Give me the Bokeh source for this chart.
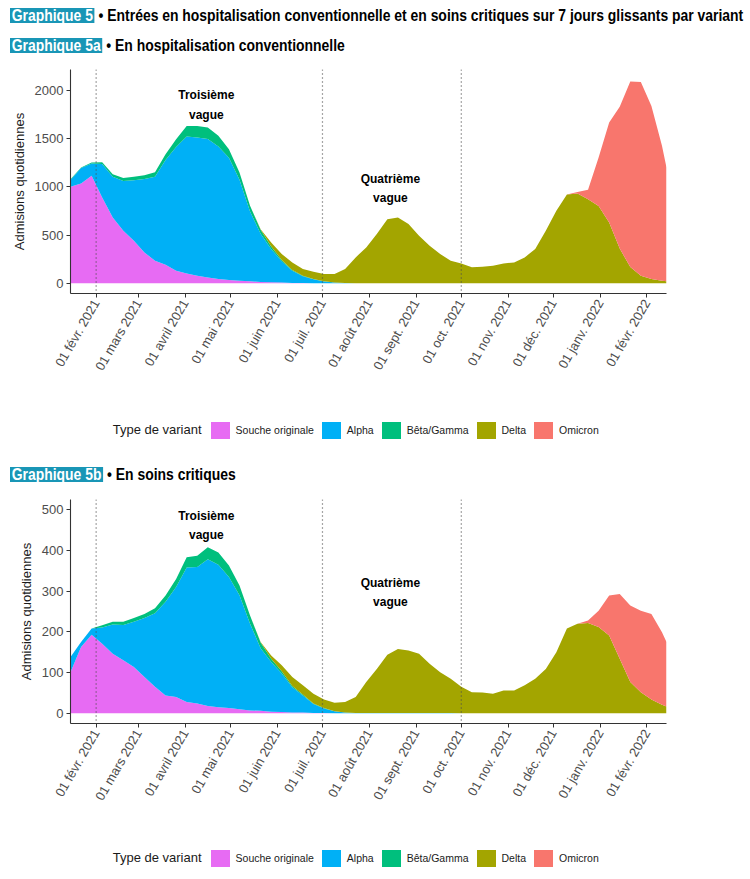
import math
import pandas as pd
from bokeh.plotting import figure
from bokeh.models import ColumnDataSource, Range1d, FixedTicker, Span, Div
from bokeh.layouts import column
from bokeh.embed import file_html
from bokeh.resources import INLINE
from bokeh.core.properties import value

# ---------------- data ----------------
dates = list(pd.date_range("2021-01-15", periods=57, freq="7D")) + [pd.Timestamp("2022-02-14")]

variant_names = ["Souche originale", "Alpha", "Bêta/Gamma", "Delta", "Omicron"]
variant_colors = ["#E76BF3", "#00B0F6", "#00BF7D", "#A3A500", "#F8766D"]

# Graphique 5a : hospitalisation conventionnelle
hosp_souche = [1000, 1034, 1114, 890, 683, 545, 441, 320, 234, 193,
               131, 103, 79, 62, 45, 34, 28, 21, 15, 12,
               8, 5, 3, 2, 1, 0, 0, 0, 0, 0,
               0, 0, 0, 0, 0, 0, 0, 0, 0, 0,
               0, 0, 0, 0, 0, 0, 0, 0, 0, 0,
               0, 0, 0, 0, 0, 0, 0, 0]
hosp_alpha = [70, 160, 128, 345, 420, 515, 627, 760, 870, 1085,
              1282, 1418, 1432, 1432, 1373, 1266, 1045, 722, 500, 345,
              220, 125, 70, 40, 18, 8, 3, 1, 0, 0,
              0, 0, 0, 0, 0, 0, 0, 0, 0, 0,
              0, 0, 0, 0, 0, 0, 0, 0, 0, 0,
              0, 0, 0, 0, 0, 0, 0, 0]
hosp_beta = [9, 6, 10, 20, 28, 30, 35, 40, 46, 60,
             80, 110, 120, 120, 110, 90, 75, 60, 40, 25,
             15, 8, 5, 3, 2, 1, 0, 0, 0, 0,
             0, 0, 0, 0, 0, 0, 0, 0, 0, 0,
             0, 0, 0, 0, 0, 0, 0, 0, 0, 0,
             0, 0, 0, 0, 0, 0, 0, 0]
hosp_delta = [0, 0, 0, 0, 0, 0, 0, 0, 0, 0,
              0, 0, 0, 0, 0, 0, 0, 0, 5, 42,
              60, 79, 70, 76, 76, 88, 145, 268, 372, 510,
              665, 683, 614, 493, 390, 303, 234, 207, 166, 172,
              183, 207, 217, 269, 355, 545, 752, 920, 930, 870,
              800, 630, 360, 170, 80, 45, 28, 22]
hosp_omicron = [0, 0, 0, 0, 0, 0, 0, 0, 0, 0,
                0, 0, 0, 0, 0, 0, 0, 0, 0, 0,
                0, 0, 0, 0, 0, 0, 0, 0, 0, 0,
                0, 0, 0, 0, 0, 0, 0, 0, 0, 0,
                0, 0, 0, 0, 0, 0, 0, 0, 15, 100,
                503, 1036, 1468, 1920, 2006, 1793, 1396, 1178]

# Graphique 5b : soins critiques
crit_souche = [101, 163, 193, 171, 146, 130, 114, 89, 65, 44,
               40, 28, 24, 18, 15, 13, 10, 7, 6, 4,
               3, 2, 2, 1, 1, 0, 0, 0, 0, 0,
               0, 0, 0, 0, 0, 0, 0, 0, 0, 0,
               0, 0, 0, 0, 0, 0, 0, 0, 0, 0,
               0, 0, 0, 0, 0, 0, 0, 0]
crit_alpha = [37, 12, 15, 40, 72, 87, 111, 145, 181, 230,
              270, 330, 335, 360, 350, 322, 280, 213, 154, 122,
              95, 62, 42, 22, 11, 5, 2, 1, 1, 1,
              1, 1, 1, 1, 1, 1, 1, 0, 0, 0,
              0, 0, 0, 0, 0, 0, 0, 0, 0, 0,
              0, 0, 0, 0, 0, 0, 0, 0]
crit_beta = [0, 0, 0, 5, 7, 8, 9, 10, 12, 15,
             20, 25, 28, 30, 30, 28, 24, 20, 14, 8,
             5, 3, 2, 1, 1, 0, 0, 0, 0, 0,
             0, 0, 0, 0, 0, 0, 0, 0, 0, 0,
             0, 0, 0, 0, 0, 0, 0, 0, 0, 0,
             0, 0, 0, 0, 0, 0, 0, 0]
crit_delta = [0, 0, 0, 0, 0, 0, 0, 0, 0, 0,
              0, 0, 0, 0, 0, 0, 0, 0, 1, 8,
              15, 22, 23, 24, 21, 21, 26, 39, 76, 108,
              143, 157, 153, 145, 121, 100, 84, 65, 52, 51,
              48, 56, 56, 69, 85, 109, 150, 208, 220, 222,
              212, 191, 134, 77, 52, 34, 21, 17]
crit_omicron = [0, 0, 0, 0, 0, 0, 0, 0, 0, 0,
                0, 0, 0, 0, 0, 0, 0, 0, 0, 0,
                0, 0, 0, 0, 0, 0, 0, 0, 0, 0,
                0, 0, 0, 0, 0, 0, 0, 0, 0, 0,
                0, 0, 0, 0, 0, 0, 0, 0, 0, 6,
                40, 98, 159, 188, 200, 210, 178, 158]

tick_dates = ["2021-02-01", "2021-03-01", "2021-04-01", "2021-05-01", "2021-06-01",
              "2021-07-01", "2021-08-01", "2021-09-01", "2021-10-01", "2021-11-01",
              "2021-12-01", "2022-01-01", "2022-02-01"]
tick_labels = ["01 févr. 2021", "01 mars 2021", "01 avril 2021", "01 mai 2021",
               "01 juin 2021", "01 juil. 2021", "01 août 2021", "01 sept. 2021",
               "01 oct. 2021", "01 nov. 2021", "01 déc. 2021", "01 janv. 2022",
               "01 févr. 2022"]
vline_dates = ["2021-02-01", "2021-07-01", "2021-10-01"]

ann_dates = ["2021-04-15", "2021-04-15", "2021-08-15", "2021-08-15"]
ann_text = ["Troisième", "vague", "Quatrième", "vague"]
hosp_ann_y = [1948, 1748, 1080, 882]
crit_ann_y = [485, 438, 319, 273]

hosp_yticks = [0, 500, 1000, 1500, 2000]
crit_yticks = [0, 100, 200, 300, 400, 500]

title_main = ("Graphique 5", "• Entrées en hospitalisation conventionnelle et en soins critiques sur 7 jours glissants par variant")
title_a = ("Graphique 5a", "• En hospitalisation conventionnelle")
title_b = ("Graphique 5b", "• En soins critiques")
legend_title = "Type de variant"

# ---------------- helpers ----------------
EPOCH = pd.Timestamp("1970-01-01")
W = 742
FONT = "Liberation Sans"
TEAL = "#1996B6"


def ms(d):
    return int((pd.Timestamp(d) - EPOCH) // pd.Timedelta(milliseconds=1))


def title_line(box, rest, top):
    return (f'<div style="position:absolute;left:10px;top:{top}px;white-space:nowrap;'
            f'transform:scaleX(0.87);transform-origin:0 0;font-family:\'{FONT}\';'
            f'font-weight:bold;font-size:16px;line-height:15px;color:#000;">'
            f'<span style="display:inline-block;height:15px;line-height:15px;'
            f'background:{TEAL};color:#fff;padding:0 2px;">{box}</span> {rest}</div>')


def title_div(h, lines):
    html = f'<div style="position:relative;width:{W}px;height:{h}px;">'
    for box, rest, top in lines:
        html += title_line(box, rest, top)
    html += '</div>'
    return Div(text=html, width=W, height=h, margin=0)


def legend_div(h, top):
    html = (f'<div style="position:relative;width:{W}px;height:{h}px;">'
            f'<div style="position:absolute;left:112.7px;top:{top}px;height:17px;'
            f'display:flex;align-items:center;white-space:nowrap;font-family:\'{FONT}\';'
            f'color:#1a1a1a;">'
            f'<span style="font-size:13px;margin-right:9px;">{legend_title}</span>')
    for n, c in zip(variant_names, variant_colors):
        html += (f'<span style="display:inline-block;width:19px;height:17px;'
                 f'background:{c};margin-right:6px;"></span>'
                 f'<span style="font-size:10.5px;margin-right:8px;">{n}</span>')
    html += '</div></div>'
    return Div(text=html, width=W, height=h, margin=0)


def make_panel(series, y_start, y_end, yticks, ann_y):
    src = ColumnDataSource(dict(date=pd.to_datetime(dates), s0=series[0], s1=series[1],
                                s2=series[2], s3=series[3], s4=series[4]))
    p = figure(x_axis_type="datetime", width=W, height=325,
               min_border_left=70, min_border_right=76,
               min_border_top=1, min_border_bottom=100,
               x_range=Range1d(ms("2021-01-15"), ms("2022-02-14")),
               y_range=Range1d(y_start, y_end),
               output_backend="svg", toolbar_location=None,
               background_fill_color="white", border_fill_color="white")
    p.outline_line_color = None
    p.xgrid.visible = False
    p.ygrid.visible = False

    p.varea_stack(stackers=["s0", "s1", "s2", "s3", "s4"], x="date",
                  color=variant_colors, source=src)

    for d in vline_dates:
        p.add_layout(Span(location=ms(d), dimension="height", line_color="#4d4d4d",
                          line_dash="1 3", line_width=1.2))

    p.text(x=[ms(d) for d in ann_dates], y=ann_y, text=ann_text,
           text_align="center", text_baseline="middle",
           text_font=value(FONT), text_font_style="bold",
           text_font_size=value("12px"), text_color="black")

    xa = p.xaxis[0]
    xa.ticker = FixedTicker(ticks=[ms(d) for d in tick_dates], minor_ticks=[])
    xa.major_label_overrides = {ms(d): lab for d, lab in zip(tick_dates, tick_labels)}
    xa.major_label_orientation = math.pi / 3
    ya = p.yaxis[0]
    ya.ticker = FixedTicker(ticks=yticks, minor_ticks=[])
    ya.axis_label = "Admisions quotidiennes"
    ya.axis_label_text_font = FONT
    ya.axis_label_text_font_style = "normal"
    ya.axis_label_text_font_size = "13px"
    ya.axis_label_text_color = "#1a1a1a"
    ya.axis_label_standoff = 5
    for ax in (xa, ya):
        ax.axis_line_color = "#333333"
        ax.axis_line_width = 1.1
        ax.major_tick_line_color = "#333333"
        ax.major_tick_out = 4
        ax.major_tick_in = 0
        ax.minor_tick_out = 0
        ax.minor_tick_in = 0
        ax.major_label_text_font = FONT
        ax.major_label_text_font_size = "13px"
        ax.major_label_text_color = "#4d4d4d"
        ax.major_label_standoff = 3
    return p


t1 = title_div(68, [(title_main[0], title_main[1], 8.3), (title_a[0], title_a[1], 38)])
p1 = make_panel([hosp_souche, hosp_alpha, hosp_beta, hosp_delta, hosp_omicron],
                -105, 2215, hosp_yticks, hosp_ann_y)
l1 = legend_div(59, 28.5)
t2 = title_div(46, [(title_b[0], title_b[1], 15)])
p2 = make_panel([crit_souche, crit_alpha, crit_beta, crit_delta, crit_omicron],
                -25, 525, crit_yticks, crit_ann_y)
l2 = legend_div(48, 26.5)

layout = column(t1, p1, l1, t2, p2, l2)
open("out.html", "w").write(file_html(layout, INLINE))
